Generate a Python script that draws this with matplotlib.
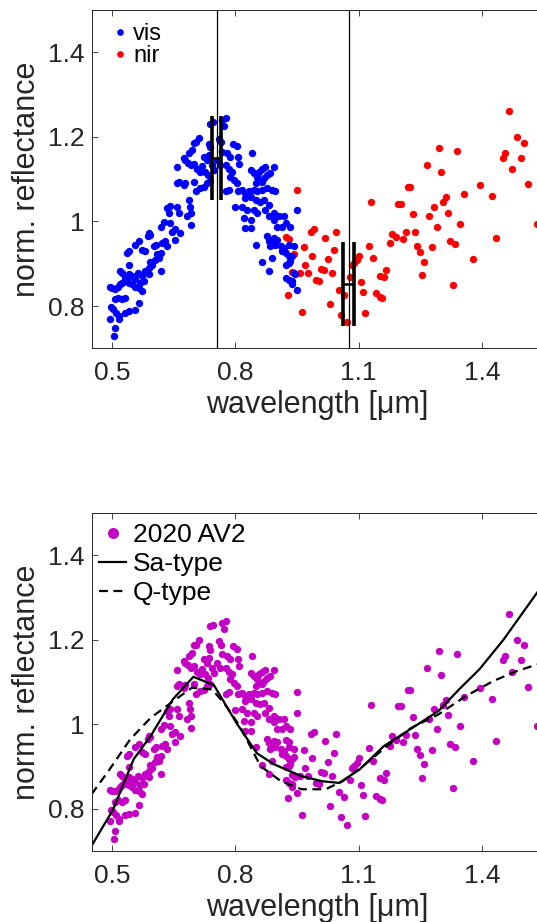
import numpy as np
import matplotlib.pyplot as plt

plt.rcParams['font.family'] = ['Liberation Sans', 'DejaVu Sans']

# visible spectrum points (wavelength um, normalised reflectance)
vis = np.array([
    [0.504, 0.729], [0.506, 0.747], [0.496, 0.770], [0.498, 0.798], [0.502, 0.792],
    [0.510, 0.784], [0.516, 0.776], [0.518, 0.770], [0.508, 0.816], [0.515, 0.820],
    [0.524, 0.816], [0.531, 0.820], [0.532, 0.784], [0.541, 0.788], [0.555, 0.790],
    [0.565, 0.808], [0.494, 0.845], [0.500, 0.843], [0.506, 0.841], [0.515, 0.845],
    [0.520, 0.851], [0.524, 0.855], [0.532, 0.863], [0.536, 0.859], [0.541, 0.855],
    [0.549, 0.851], [0.557, 0.845], [0.565, 0.843], [0.573, 0.835], [0.569, 0.855],
    [0.577, 0.859], [0.520, 0.882], [0.524, 0.877], [0.532, 0.871], [0.541, 0.875],
    [0.549, 0.871], [0.557, 0.864], [0.563, 0.877], [0.573, 0.872], [0.581, 0.882],
    [0.589, 0.890], [0.591, 0.875], [0.593, 0.904], [0.597, 0.896], [0.618, 0.882],
    [0.605, 0.910], [0.614, 0.914], [0.541, 0.898], [0.536, 0.925], [0.541, 0.929],
    [0.557, 0.945], [0.565, 0.953], [0.573, 0.933], [0.581, 0.929], [0.589, 0.973],
    [0.593, 0.969], [0.588, 0.965], [0.601, 0.941], [0.607, 0.945], [0.609, 0.922],
    [0.618, 0.925], [0.622, 0.949], [0.630, 0.953], [0.634, 0.941], [0.618, 0.988],
    [0.626, 0.998], [0.646, 0.976], [0.652, 0.982], [0.634, 1.031], [0.642, 1.037],
    [0.638, 1.020], [0.658, 1.035], [0.664, 1.020], [0.652, 0.957], [0.666, 0.973],
    [0.642, 0.996],
    [0.658, 1.129], [0.657, 1.090], [0.662, 1.094], [0.674, 1.086], [0.678, 1.092],
    [0.674, 1.149], [0.678, 1.145], [0.684, 1.139], [0.687, 1.161], [0.695, 1.169],
    [0.699, 1.186], [0.705, 1.188], [0.711, 1.198], [0.691, 1.133], [0.699, 1.137],
    [0.707, 1.123], [0.715, 1.118], [0.699, 1.094], [0.703, 1.071], [0.715, 1.078],
    [0.723, 1.081], [0.731, 1.090], [0.738, 1.096], [0.723, 1.153], [0.730, 1.145],
    [0.735, 1.157], [0.719, 1.131], [0.727, 1.118], [0.733, 1.110], [0.735, 1.184],
    [0.739, 1.176], [0.739, 1.231], [0.746, 1.235], [0.743, 1.133], [0.747, 1.122],
    [0.755, 1.145], [0.762, 1.133], [0.760, 1.196], [0.765, 1.188], [0.768, 1.239],
    [0.778, 1.245], [0.773, 1.225], [0.768, 1.165], [0.780, 1.161], [0.788, 1.153],
    [0.776, 1.133], [0.784, 1.123], [0.792, 1.118], [0.788, 1.106], [0.796, 1.098],
    [0.803, 1.090], [0.776, 1.071], [0.784, 1.075], [0.794, 1.184], [0.804, 1.178],
    [0.806, 1.153], [0.808, 1.137], [0.798, 1.034], [0.806, 1.071], [0.687, 1.051],
    [0.689, 1.035], [0.691, 1.020], [0.683, 1.012], [0.691, 0.992],
    [0.841, 1.161], [0.837, 1.122], [0.845, 1.115], [0.857, 1.118], [0.865, 1.123],
    [0.873, 1.128], [0.893, 1.129], [0.853, 1.106], [0.861, 1.098], [0.869, 1.102],
    [0.877, 1.110], [0.885, 1.114], [0.849, 1.090], [0.865, 1.094], [0.816, 1.074],
    [0.824, 1.067], [0.833, 1.071], [0.845, 1.074], [0.853, 1.071], [0.865, 1.074],
    [0.877, 1.078], [0.889, 1.074], [0.897, 1.071], [0.824, 1.055], [0.837, 1.059],
    [0.849, 1.051], [0.861, 1.047], [0.869, 1.051], [0.881, 1.039], [0.816, 1.035],
    [0.828, 1.027], [0.845, 1.027], [0.853, 1.020], [0.873, 1.027], [0.881, 1.012],
    [0.893, 1.004], [0.906, 1.012], [0.918, 1.012], [0.922, 0.996], [0.820, 1.008],
    [0.837, 1.004], [0.893, 1.020], [0.914, 0.988], [0.934, 0.988], [0.949, 1.026],
    [0.824, 0.984], [0.837, 0.984],
    [0.901, 0.988], [0.877, 0.965], [0.881, 0.955], [0.889, 0.949], [0.893, 0.961],
    [0.901, 0.957], [0.849, 0.945], [0.885, 0.941], [0.897, 0.945], [0.910, 0.941],
    [0.918, 0.937], [0.930, 0.945], [0.942, 0.941], [0.914, 0.929], [0.922, 0.925],
    [0.930, 0.918], [0.889, 0.914], [0.865, 0.904], [0.881, 0.882], [0.922, 0.898],
    [0.930, 0.902], [0.934, 0.906], [0.938, 0.918], [0.942, 0.877], [0.946, 0.875],
    [0.922, 0.867], [0.930, 0.861], [0.938, 0.859], [0.938, 0.851], [0.950, 0.838],
])

# near-infrared spectrum points
nir = np.array([
    [1.465, 1.261], [1.484, 1.200], [1.503, 1.186], [1.455, 1.161], [1.451, 1.151],
    [1.494, 1.151], [1.472, 1.124], [1.511, 1.089], [1.295, 1.173], [1.340, 1.167],
    [1.265, 1.133], [1.300, 1.116], [1.219, 1.081], [1.226, 1.081], [1.394, 1.086],
    [1.425, 1.060], [1.356, 1.064], [1.313, 1.057], [1.305, 1.046], [1.195, 1.042],
    [1.202, 1.042], [1.283, 1.035], [1.231, 1.017], [1.272, 1.013], [1.318, 1.021],
    [1.290, 0.988], [1.346, 0.995], [1.181, 0.971], [1.190, 0.963], [1.214, 0.974],
    [1.236, 0.974], [1.177, 0.949], [1.208, 0.958], [1.242, 0.941], [1.248, 0.928],
    [1.278, 0.939], [1.323, 0.953], [1.335, 0.947], [1.434, 0.960], [1.258, 0.905],
    [1.379, 0.912], [1.253, 0.873], [1.329, 0.849], [1.535, 0.995],
    [1.129, 1.046], [0.983, 0.976], [0.992, 0.982], [1.046, 0.976], [1.019, 0.961],
    [0.966, 0.940], [1.039, 0.932], [0.987, 0.919], [1.025, 0.911], [0.970, 0.896],
    [0.958, 0.878], [0.976, 0.877], [1.009, 0.888], [1.015, 0.885], [1.035, 0.877],
    [0.997, 0.861], [1.004, 0.859], [1.030, 0.806], [0.962, 0.786], [1.125, 0.943],
    [1.135, 0.914], [1.100, 0.919], [1.096, 0.908], [1.088, 0.902], [1.084, 0.896],
    [1.167, 0.885], [1.151, 0.872], [1.161, 0.869], [1.078, 0.869], [1.106, 0.856],
    [1.051, 0.839], [1.064, 0.827], [1.111, 0.833], [1.141, 0.830], [1.151, 0.822],
    [1.157, 0.820], [1.056, 0.780], [1.072, 0.762], [1.116, 0.783],
    [0.922, 0.963], [0.930, 0.958], [0.942, 0.922], [0.938, 0.880], [0.927, 0.825],
    [0.949, 1.075],
])

# band centres with uncertainty
band_center = [0.7545, 1.0755]
band_center_err = [0.0105, 0.0142]
band_refl = [1.151, 0.851]

# taxonomic template spectra
sa_wl = [0.45, 0.5025, 0.5525, 0.594, 0.648, 0.698, 0.748, 0.8025, 0.8525, 0.894,
         0.961, 1.011, 1.0525, 1.1025, 1.161, 1.219, 1.294, 1.344, 1.394, 1.4525, 1.534]
sa_refl = [0.712, 0.798, 0.917, 0.972, 1.059, 1.112, 1.092, 1.003, 0.931, 0.905,
           0.877, 0.865, 0.861, 0.893, 0.948, 0.984, 1.031, 1.082, 1.130, 1.200, 1.311]
q_wl = [0.45, 0.494, 0.544, 0.594, 0.644, 0.694, 0.744, 0.7775, 0.811, 0.861, 0.911,
        0.961, 1.019, 1.061, 1.111, 1.169, 1.2275, 1.294, 1.36, 1.4275, 1.486, 1.534]
q_refl = [0.834, 0.893, 0.964, 1.015, 1.051, 1.086, 1.082, 1.043, 0.995, 0.901, 0.865,
          0.846, 0.846, 0.865, 0.901, 0.948, 0.991, 1.023, 1.066, 1.102, 1.126, 1.141]

xticks = [0.5, 0.8, 1.1, 1.4]
yticks = [0.8, 1.0, 1.2, 1.4]
ytick_labels = ['0.8', '1', '1.2', '1.4']

txt = '0.15'
magenta = '#c400c4'
ms = 5.3


def style(ax):
    ax.set_xlim(0.45, 1.55)
    ax.set_ylim(0.7, 1.5)
    ax.set_xticks(xticks)
    ax.set_xticklabels([str(t) for t in xticks])
    ax.set_yticks(yticks)
    ax.set_yticklabels(ytick_labels)
    ax.tick_params(direction='in', top=True, right=True, length=4, width=0.6,
                   labelsize=19, colors=txt)
    ax.tick_params(axis='x', pad=9)
    ax.tick_params(axis='y', pad=5)
    for s in ax.spines.values():
        s.set_linewidth(0.7)
        s.set_color(txt)
    ax.set_xlabel('wavelength [\u03bcm]', fontsize=22, color=txt, labelpad=4)
    ax.set_ylabel('norm. reflectance', fontsize=22, color=txt, labelpad=4)


fig = plt.figure(figsize=(5.37, 9.22), dpi=100)

ax1 = fig.add_axes([0.1704, 0.6222, 0.842, 0.3669])
ax1.plot(nir[:, 0], nir[:, 1], 'o', color='red', ms=ms, mec='none', zorder=2, label='nir')
ax1.plot(vis[:, 0], vis[:, 1], 'o', color='blue', ms=ms, mec='none', zorder=3, label='vis')
for c in band_center:
    ax1.axvline(c, color='k', lw=0.9, zorder=4)
ax1.errorbar(band_center, band_refl, xerr=band_center_err, fmt='none', ecolor='k',
             elinewidth=1.8, capsize=30, capthick=2.6, zorder=5)
style(ax1)
h, l = ax1.get_legend_handles_labels()
ax1.legend([h[1], h[0]], [l[1], l[0]], loc='upper left', bbox_to_anchor=(0.040, 0.968),
           frameon=False, fontsize=17, handlelength=0.65, handletextpad=0.25,
           labelspacing=0.0, borderaxespad=0, borderpad=0.1, markerscale=0.9)

ax2 = fig.add_axes([0.1704, 0.0770, 0.842, 0.3669])
allpts = np.vstack([vis, nir])
ax2.plot(allpts[:, 0], allpts[:, 1], 'o', color=magenta, ms=ms, mec='none',
         label='2020 AV2')
ax2.plot(sa_wl, sa_refl, '-', color='k', lw=1.6, label='Sa-type')
ax2.plot(q_wl, q_refl, '--', color='k', lw=1.6, dashes=(4, 2.5), label='Q-type')
style(ax2)
ax2.legend(loc='upper left', bbox_to_anchor=(0.011, 0.978), frameon=False,
           fontsize=19, handlelength=1.02, handletextpad=0.25, labelspacing=0.2,
           markerscale=1.5, borderaxespad=0, borderpad=0.1)

fig.savefig('out.png', dpi=100)
